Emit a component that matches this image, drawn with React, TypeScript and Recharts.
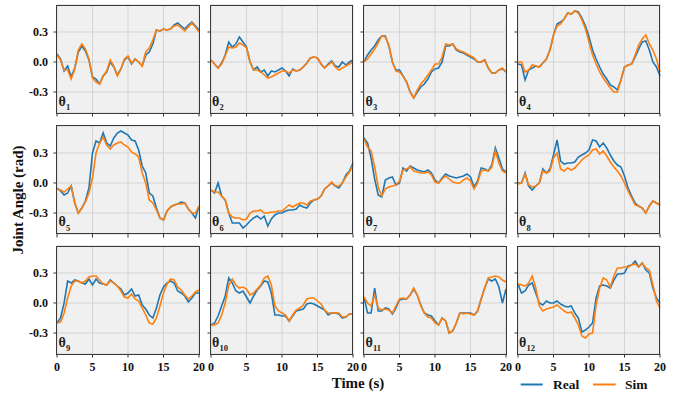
import React from "react";
import { LineChart, Line, XAxis, YAxis, CartesianGrid } from "recharts";

// time axis (s), sampled every 0.5 s
const TIME = [
  0, 0.5, 1, 1.5, 2, 2.5, 3, 3.5, 4, 4.5, 5, 5.5, 6, 6.5, 7, 7.5, 8, 8.5, 9, 9.5, 10,
  10.5, 11, 11.5, 12, 12.5, 13, 13.5, 14, 14.5, 15, 15.5, 16, 16.5, 17, 17.5, 18, 18.5, 19, 19.5, 20,
];

const X_TICKS = [0, 5, 10, 15, 20];
const Y_TICKS = [-0.3, 0, 0.3];
const JOINT_LABELS = ["1", "2", "3", "4", "5", "6", "7", "8", "9", "10", "11", "12"];

const real1 = [0.08, 0.03, -0.09, -0.04, -0.15, -0.06, 0.1, 0.16, 0.11, 0.02, -0.15, -0.17, -0.22, -0.14, -0.1, 0.0, -0.05, -0.13, -0.07, 0.02, 0.05, -0.02, 0.03, 0.0, -0.04, 0.07, 0.1, 0.18, 0.32, 0.31, 0.33, 0.32, 0.33, 0.37, 0.39, 0.36, 0.33, 0.37, 0.4, 0.36, 0.32];
const sim1 = [0.07, 0.02, -0.08, -0.08, -0.17, -0.07, 0.12, 0.18, 0.13, 0.03, -0.16, -0.2, -0.22, -0.14, -0.09, 0.02, -0.04, -0.14, -0.07, 0.03, 0.06, -0.01, 0.03, 0.0, -0.04, 0.1, 0.14, 0.22, 0.32, 0.31, 0.33, 0.32, 0.33, 0.36, 0.37, 0.34, 0.31, 0.35, 0.39, 0.35, 0.3];

const real2 = [0.02, -0.02, -0.06, -0.01, 0.07, 0.2, 0.15, 0.18, 0.25, 0.2, 0.15, 0.0, -0.08, -0.05, -0.1, -0.08, -0.14, -0.09, -0.1, -0.08, -0.06, -0.09, -0.14, -0.07, -0.09, -0.08, -0.05, -0.01, 0.04, 0.05, 0.04, -0.02, -0.06, -0.02, 0.01, -0.04, -0.05, 0.0, -0.03, 0.0, 0.02];
const sim2 = [0.02, -0.02, -0.06, -0.02, 0.06, 0.15, 0.14, 0.15, 0.19, 0.17, 0.14, 0.0, -0.08, -0.08, -0.1, -0.13, -0.16, -0.15, -0.13, -0.11, -0.09, -0.09, -0.11, -0.08, -0.09, -0.08, -0.05, -0.01, 0.04, 0.05, 0.04, -0.02, -0.06, -0.03, 0.0, -0.05, -0.08, -0.06, -0.04, -0.02, 0.0];

const real3 = [0.0, 0.07, 0.12, 0.16, 0.22, 0.26, 0.26, 0.16, 0.0, -0.08, -0.08, -0.14, -0.2, -0.3, -0.36, -0.3, -0.25, -0.22, -0.17, -0.1, -0.07, -0.06, 0.0, 0.16, 0.16, 0.18, 0.12, 0.1, 0.09, 0.07, 0.05, 0.03, 0.0, 0.0, 0.02, -0.06, -0.11, -0.11, -0.08, -0.07, -0.1];
const sim3 = [0.0, 0.03, 0.08, 0.13, 0.19, 0.26, 0.25, 0.17, 0.0, -0.09, -0.1, -0.14, -0.2, -0.3, -0.36, -0.28, -0.22, -0.18, -0.13, -0.08, -0.02, -0.02, 0.05, 0.18, 0.17, 0.18, 0.13, 0.11, 0.1, 0.08, 0.06, 0.04, 0.0, 0.0, 0.02, -0.06, -0.11, -0.11, -0.08, -0.06, -0.1];

const real4 = [-0.02, -0.03, -0.18, -0.08, -0.06, -0.04, -0.05, -0.01, 0.03, 0.12, 0.27, 0.38, 0.4, 0.43, 0.49, 0.48, 0.51, 0.5, 0.44, 0.36, 0.25, 0.12, 0.03, -0.05, -0.12, -0.17, -0.23, -0.25, -0.28, -0.18, -0.05, -0.03, -0.02, 0.05, 0.13, 0.2, 0.21, 0.12, 0.0, -0.05, -0.14];
const sim4 = [0.0, 0.0, -0.1, -0.08, -0.03, -0.04, -0.05, -0.01, 0.03, 0.12, 0.27, 0.36, 0.38, 0.43, 0.49, 0.48, 0.51, 0.49, 0.42, 0.33, 0.2, 0.07, -0.02, -0.1, -0.16, -0.21, -0.26, -0.3, -0.3, -0.18, -0.05, -0.03, -0.02, 0.07, 0.17, 0.23, 0.27, 0.18, 0.12, 0.03, -0.1];

const real5 = [-0.05, -0.08, -0.12, -0.1, -0.03, -0.2, -0.3, -0.25, -0.18, -0.05, 0.3, 0.42, 0.4, 0.5, 0.4, 0.37, 0.45, 0.5, 0.52, 0.5, 0.48, 0.43, 0.42, 0.33, 0.17, 0.1, -0.1, -0.13, -0.25, -0.35, -0.37, -0.28, -0.24, -0.22, -0.21, -0.19, -0.2, -0.26, -0.3, -0.35, -0.23];
const sim5 = [-0.06, -0.07, -0.09, -0.06, -0.03, -0.2, -0.3, -0.25, -0.19, -0.1, 0.05, 0.3, 0.4, 0.46, 0.38, 0.34, 0.38, 0.4, 0.41, 0.38, 0.36, 0.31, 0.29, 0.26, 0.1, 0.0, -0.17, -0.2, -0.27, -0.35, -0.37, -0.28, -0.24, -0.22, -0.21, -0.21, -0.2, -0.26, -0.3, -0.3, -0.23];

const real6 = [-0.07, -0.1, 0.0, -0.13, -0.17, -0.3, -0.4, -0.4, -0.4, -0.45, -0.42, -0.38, -0.35, -0.33, -0.36, -0.33, -0.43, -0.36, -0.32, -0.3, -0.3, -0.28, -0.27, -0.27, -0.26, -0.22, -0.24, -0.25, -0.2, -0.17, -0.16, -0.13, -0.06, -0.03, 0.0, -0.03, -0.05, 0.0, 0.08, 0.12, 0.2];
const sim6 = [-0.07, -0.09, -0.09, -0.13, -0.17, -0.3, -0.34, -0.35, -0.35, -0.37, -0.36, -0.3, -0.28, -0.28, -0.27, -0.3, -0.3, -0.29, -0.29, -0.28, -0.28, -0.25, -0.22, -0.24, -0.22, -0.2, -0.2, -0.22, -0.18, -0.17, -0.16, -0.13, -0.06, -0.03, 0.01, -0.03, -0.03, 0.0, 0.06, 0.11, 0.18];

const real7 = [0.45, 0.4, 0.25, 0.04, -0.12, -0.14, 0.03, 0.05, 0.06, -0.02, 0.0, 0.15, 0.12, 0.17, 0.15, 0.13, 0.12, 0.11, 0.13, 0.1, 0.03, 0.0, 0.05, 0.09, 0.07, 0.06, 0.05, 0.06, 0.07, 0.09, 0.06, -0.04, 0.02, 0.15, 0.14, 0.12, 0.18, 0.35, 0.25, 0.14, 0.11];
const sim7 = [0.44, 0.36, 0.32, 0.16, -0.04, -0.13, -0.06, -0.04, -0.03, -0.02, 0.02, 0.13, 0.14, 0.16, 0.12, 0.11, 0.1, 0.1, 0.11, 0.08, 0.01, 0.0, 0.04, 0.07, 0.04, 0.01, 0.0, 0.0, 0.03, 0.05, 0.02, -0.06, 0.0, 0.12, 0.13, 0.12, 0.16, 0.32, 0.2, 0.12, 0.1];

const real8 = [0.0, 0.0, 0.1, -0.03, -0.07, -0.03, 0.0, 0.14, 0.1, 0.14, 0.28, 0.43, 0.22, 0.19, 0.2, 0.2, 0.21, 0.26, 0.28, 0.3, 0.33, 0.43, 0.42, 0.36, 0.4, 0.35, 0.28, 0.22, 0.18, 0.16, 0.07, -0.05, -0.13, -0.2, -0.23, -0.25, -0.3, -0.23, -0.18, -0.2, -0.22];
const sim8 = [-0.01, 0.0, 0.09, -0.02, -0.04, -0.03, 0.0, 0.12, 0.1, 0.12, 0.25, 0.3, 0.14, 0.12, 0.15, 0.13, 0.15, 0.19, 0.23, 0.26, 0.28, 0.33, 0.34, 0.29, 0.32, 0.27, 0.21, 0.16, 0.12, 0.07, 0.0, -0.08, -0.15, -0.22, -0.23, -0.25, -0.3, -0.23, -0.18, -0.2, -0.22];

const real9 = [-0.2, -0.15, 0.0, 0.22, 0.2, 0.23, 0.22, 0.2, 0.19, 0.24, 0.18, 0.24, 0.2, 0.19, 0.18, 0.23, 0.2, 0.17, 0.14, 0.08, 0.1, 0.14, 0.07, 0.08, -0.02, -0.06, -0.12, -0.15, -0.05, 0.08, 0.16, 0.2, 0.22, 0.2, 0.12, 0.1, 0.07, 0.01, 0.05, 0.1, 0.1];
const sim9 = [-0.2, -0.19, -0.1, 0.05, 0.17, 0.22, 0.22, 0.2, 0.22, 0.26, 0.27, 0.27, 0.23, 0.19, 0.18, 0.22, 0.2, 0.17, 0.12, 0.06, 0.05, 0.09, 0.04, 0.02, -0.05, -0.12, -0.2, -0.21, -0.15, -0.03, 0.1, 0.19, 0.24, 0.23, 0.16, 0.13, 0.08, 0.04, 0.07, 0.11, 0.13];

const real10 = [-0.22, -0.2, -0.13, -0.03, 0.07, 0.25, 0.2, 0.12, 0.1, 0.12, 0.06, 0.0, 0.07, 0.13, 0.17, 0.22, 0.21, 0.1, -0.12, -0.12, -0.13, -0.13, -0.18, -0.13, -0.08, -0.07, -0.06, -0.01, 0.0, -0.01, -0.03, -0.05, -0.07, -0.12, -0.1, -0.1, -0.11, -0.15, -0.14, -0.11, -0.11];
const sim10 = [-0.22, -0.22, -0.2, -0.12, 0.0, 0.18, 0.24, 0.18, 0.15, 0.16, 0.14, 0.08, 0.1, 0.14, 0.18, 0.25, 0.27, 0.18, -0.03, -0.08, -0.1, -0.12, -0.18, -0.12, -0.07, -0.05, -0.02, 0.04, 0.05, 0.05, 0.02, -0.01, -0.07, -0.1, -0.1, -0.1, -0.1, -0.14, -0.14, -0.11, -0.11];

const real11 = [0.06, -0.1, -0.1, 0.15, -0.08, -0.08, -0.05, -0.06, -0.11, -0.05, 0.03, 0.04, 0.04, 0.08, 0.14, 0.08, -0.02, -0.1, -0.12, -0.13, -0.18, -0.22, -0.15, -0.18, -0.3, -0.28, -0.2, -0.1, -0.1, -0.1, -0.1, -0.12, -0.08, 0.04, 0.15, 0.24, 0.22, 0.24, 0.16, 0.0, 0.14];
const sim11 = [0.06, 0.0, -0.03, 0.08, -0.05, -0.07, -0.06, -0.07, -0.1, -0.03, 0.04, 0.05, 0.04, 0.08, 0.15, 0.08, -0.03, -0.1, -0.14, -0.15, -0.2, -0.22, -0.15, -0.18, -0.3, -0.28, -0.2, -0.1, -0.11, -0.1, -0.11, -0.12, -0.08, 0.04, 0.15, 0.25, 0.26, 0.27, 0.26, 0.23, 0.21];

const real12 = [0.19, 0.1, 0.12, 0.18, 0.2, 0.1, 0.0, -0.02, 0.02, 0.0, 0.0, 0.02, -0.01, -0.03, -0.04, -0.03, -0.1, -0.15, -0.29, -0.27, -0.24, -0.2, 0.05, 0.17, 0.18, 0.17, 0.15, 0.23, 0.29, 0.29, 0.3, 0.37, 0.38, 0.42, 0.36, 0.4, 0.33, 0.3, 0.15, 0.05, 0.0];
const sim12 = [0.19, 0.18, 0.17, 0.2, 0.27, 0.15, -0.03, -0.08, -0.06, -0.05, -0.04, -0.02, -0.05, -0.08, -0.1, -0.09, -0.15, -0.22, -0.33, -0.35, -0.31, -0.3, -0.02, 0.15, 0.25, 0.23, 0.16, 0.27, 0.35, 0.35, 0.36, 0.36, 0.38, 0.39, 0.36, 0.4, 0.35, 0.33, 0.18, 0.02, -0.05];

const REAL = [real1, real2, real3, real4, real5, real6, real7, real8, real9, real10, real11, real12];
const SIM = [sim1, sim2, sim3, sim4, sim5, sim6, sim7, sim8, sim9, sim10, sim11, sim12];

const BLUE = "#1f77b4";
const ORANGE = "#ff7f0e";
const FONT = '"Liberation Serif", "Times New Roman", serif';

// layout (px)
const COL_X = [57, 210.5, 364, 517.5];
const ROW_Y = [5.3, 125.8, 246.3];
const PLOT_W = 142;
const PLOT_H = 108;
const Y_AXIS_W = 40;
const X_AXIS_H = 24;
const M_TOP = 2;
const M_RIGHT = 14; // room for the "20" tick label

function Panel({ idx }: { idx: number }) {
  const row = Math.floor(idx / 4);
  const col = idx % 4;
  const data = TIME.map((t, i) => ({ t, real: REAL[idx][i], sim: SIM[idx][i] }));
  const showX = row === 2;
  const showY = col === 0;
  const tickStyle = { fill: "#111", fontSize: 12, fontWeight: 700, fontFamily: FONT };

  return (
    <div
      style={{
        position: "absolute",
        left: COL_X[col] - Y_AXIS_W,
        top: ROW_Y[row] - M_TOP,
      }}
    >
      <LineChart
        width={Y_AXIS_W + PLOT_W + M_RIGHT}
        height={M_TOP + PLOT_H + X_AXIS_H}
        data={data}
        margin={{ top: M_TOP, right: M_RIGHT, bottom: 0, left: 0 }}
        style={{ overflow: "visible" }}
      >
        <CartesianGrid stroke="#d3d3d3" strokeWidth={1} fill="#f0f0f0" />
        <XAxis
          dataKey="t"
          type="number"
          domain={[0, 20]}
          ticks={X_TICKS}
          height={X_AXIS_H}
          axisLine={false}
          tickLine={{ stroke: "#333" }}
          tickSize={3.5}
          tickMargin={4.5}
          tick={tickStyle}
          interval={0}
          tickFormatter={(v) => (showX ? String(v) : "")}
        />
        <YAxis
          type="number"
          domain={[-0.51, 0.57]}
          allowDataOverflow
          ticks={Y_TICKS}
          width={Y_AXIS_W}
          axisLine={false}
          tickLine={{ stroke: "#333" }}
          tickSize={3.5}
          tickMargin={5.5}
          tick={tickStyle}
          interval={0}
          tickFormatter={(v) => (showY ? Number(v).toFixed(1) : "")}
        />
        <Line
          type="linear"
          dataKey="real"
          stroke={BLUE}
          strokeWidth={1.6}
          dot={false}
          isAnimationActive={false}
        />
        <Line
          type="linear"
          dataKey="sim"
          stroke={ORANGE}
          strokeWidth={1.6}
          dot={false}
          isAnimationActive={false}
        />
      </LineChart>
    </div>
  );
}

export default function App() {
  return (
    <div
      style={{
        position: "absolute",
        left: 0,
        top: 0,
        width: 684,
        height: 396,
        background: "#fff",
        overflow: "hidden",
      }}
    >
      {JOINT_LABELS.map((_, i) => (
        <Panel key={i} idx={i} />
      ))}
      {JOINT_LABELS.map((_, i) => (
        <div
          key={"b" + i}
          style={{
            position: "absolute",
            left: COL_X[i % 4] - 0.6,
            top: ROW_Y[Math.floor(i / 4)] - 0.6,
            width: PLOT_W + 1.2,
            height: PLOT_H + 1.2,
            border: "1.2px solid #3a3a3a",
            boxSizing: "border-box",
            pointerEvents: "none",
          }}
        />
      ))}
      <svg
        width={684}
        height={396}
        style={{ position: "absolute", left: 0, top: 0, pointerEvents: "none" }}
      >
        {JOINT_LABELS.map((n, i) => (
          <text
            key={i}
            x={COL_X[i % 4] + 1.6}
            y={ROW_Y[Math.floor(i / 4)] + PLOT_H - 7.5}
            fontFamily={FONT}
            fontWeight={700}
            fontSize={14}
            fill="#222"
          >
            θ
            <tspan fontSize={8.5} dy={4.5}>
              {n}
            </tspan>
          </text>
        ))}
        <text
          x={23}
          y={200}
          transform="rotate(-90 23 200)"
          textAnchor="middle"
          fontFamily={FONT}
          fontWeight={700}
          fontSize={15}
          fill="#111"
        >
          Joint Angle (rad)
        </text>
        <text
          x={358}
          y={388}
          textAnchor="middle"
          fontFamily={FONT}
          fontWeight={700}
          fontSize={15}
          fill="#111"
        >
          Time (s)
        </text>
        <line x1={520.7} y1={384.5} x2={542.7} y2={384.5} stroke={BLUE} strokeWidth={2} />
        <text x={553} y={388.5} fontFamily={FONT} fontWeight={700} fontSize={13.5} fill="#111">
          Real
        </text>
        <line x1={593} y1={384.5} x2={615.7} y2={384.5} stroke={ORANGE} strokeWidth={2} />
        <text x={625} y={388.5} fontFamily={FONT} fontWeight={700} fontSize={13.5} fill="#111">
          Sim
        </text>
      </svg>
    </div>
  );
}
